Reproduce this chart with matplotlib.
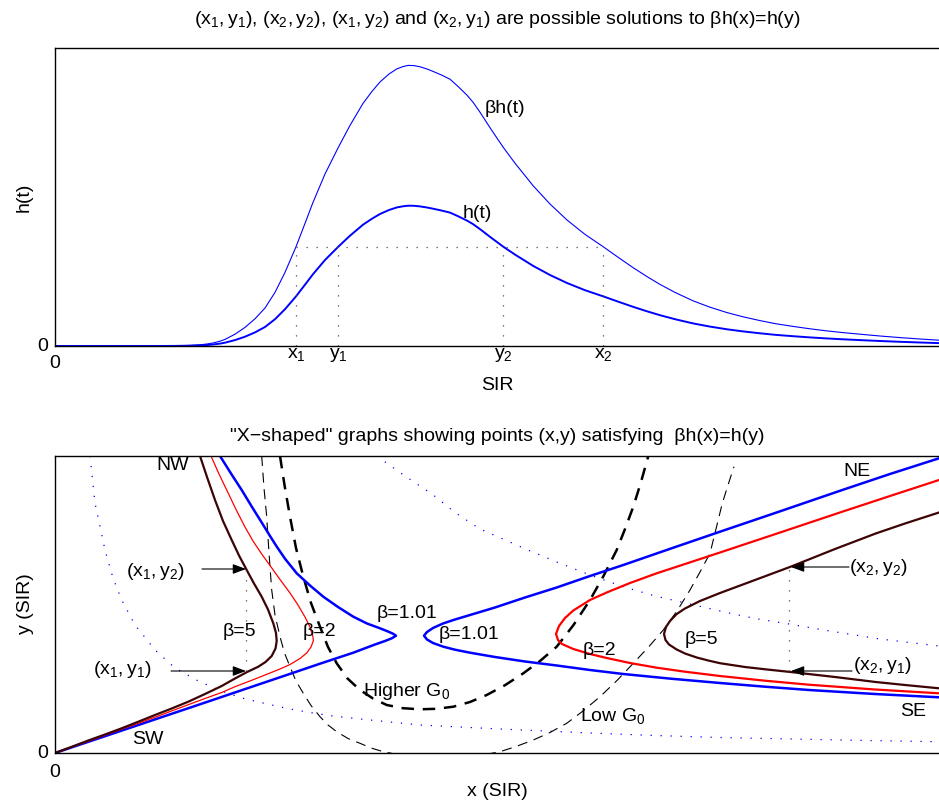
import matplotlib
matplotlib.use("Agg")
import matplotlib.pyplot as plt
from matplotlib.transforms import offset_copy, blended_transform_factory

plt.rcParams['font.family'] = ['Liberation Sans', 'DejaVu Sans']
plt.rcParams['mathtext.fontset'] = 'custom'
plt.rcParams['mathtext.rm'] = 'Liberation Sans'
plt.rcParams['mathtext.it'] = 'Liberation Sans'
plt.rcParams['mathtext.bf'] = 'Liberation Sans:bold'

# ---------------- data: top panel (h(t) curve) ----------------
beta_top = 2.0
t_vals = [0, 100, 120, 135, 145, 152, 158, 165, 170, 175, 180, 190, 200, 210, 220, 230,
          241, 250, 258, 270, 283.3, 295, 308, 317, 325, 334, 342, 348, 353, 359, 365,
          372, 378, 386, 395, 403, 412, 418, 425, 436, 448.3, 460, 470, 478, 495, 512,
          530, 548.3, 563, 578, 592, 605, 620, 638, 655, 672, 688, 705, 720, 738, 755,
          771, 788, 805, 825, 845, 865, 884]
h_vals = [0, 0, 0.1, 0.3, 0.6, 1.0, 1.5, 2.4, 3.3, 4.6, 5.9, 9.3, 13.6, 19.0, 26.8, 36.8,
          49.6, 61.3, 71.8, 86.0, 99.3, 110.3, 121.3, 127.3, 132.0, 136.0, 138.6, 139.7,
          140.3, 140.2, 139.6, 138.5, 137.3, 135.6, 133.4, 129.8, 125.4, 121.9, 116.9,
          108.4, 99.3, 91.4, 85.2, 80.2, 71.0, 63.0, 55.8, 49.6, 44.4, 39.2, 34.7, 30.8,
          26.8, 22.6, 19.4, 16.7, 14.6, 12.7, 11.2, 9.8, 8.6, 7.6, 6.7, 5.9, 5.0, 4.2,
          3.5, 2.9]
level = 99.3
x1_top, y1_top, y2_top, x2_top = 241, 283.3, 448.3, 548.3
top_tick_vals = [x1_top, y1_top, y2_top, x2_top]
top_tick_labels = [r'$\mathregular{x_1}$', r'$\mathregular{y_1}$',
                   r'$\mathregular{y_2}$', r'$\mathregular{x_2}$']

# ---------------- data: bottom panel (X-shaped curves) ----------------
b5_left_x = [145, 152, 160, 168, 176.7, 184, 191.7, 199, 206.7, 213, 218.3, 221, 221.7, 220.5,
             216.7, 210.5, 203.3, 191.7, 180, 166.7, 150, 133.3, 116.7, 100, 83.3, 66.7, 50,
             33.3, 16.7, 0]
b5_left_y = [297, 276, 253, 232, 213, 197.5, 183, 169.5, 156.3, 143.5, 129.7, 120, 112, 104.5,
             97, 91, 86.3, 80.8, 74.5, 67, 59, 51.3, 44.5, 38, 31.3, 24.7, 18.5, 12.5, 6.2, 0]

b2_left_x = [156, 164, 173.3, 181.5, 190, 198, 206.7, 215, 225, 235, 243, 250, 255, 258, 258.3,
             256, 251.7, 245, 235, 225, 215, 200, 180, 166.7, 150, 133.3, 100, 66.7, 33.3, 0]
b2_left_y = [297, 279, 259.7, 242.5, 226, 212, 199, 187.5, 173.5, 160, 148, 136, 126, 116, 112,
             106, 100, 94.5, 88.5, 84, 80, 74, 66.3, 60.5, 54.5, 48.3, 35.8, 23.8, 11.8, 0]

b1_left_x = [165, 176, 186.7, 196.7, 206.7, 215, 222, 230, 241.7, 255, 268.3, 283, 298.3, 312,
             325, 333, 338, 341, 337, 330, 320, 298.3, 265, 231.7, 200, 150, 100, 50, 0]
b1_left_y = [297, 279.5, 263, 246.5, 230.5, 217, 206, 194.3, 179.7, 167.5, 156.3, 146, 136.3,
             129.5, 124.7, 121.5, 119.3, 117.3, 114.8, 112, 108.5, 100.3, 89.3, 78, 67.3, 50.4,
             33.6, 16.8, 0]

b1_right_x = [884, 835, 787.3, 726, 665, 616, 568.3, 535, 501.7, 470, 440, 415, 400, 388, 378,
              372, 369, 372, 378, 388.3, 400, 415, 440, 470, 501.7, 535, 568.3, 616, 665, 710,
              754, 820, 884]
b1_right_y = [294.7, 279, 263, 242, 221.3, 204.5, 188, 177, 165.5, 155.5, 145.5, 138, 133.5,
              129.5, 125, 121, 117.3, 113.5, 110, 106.3, 103.3, 100.3, 96, 91.5, 87.5, 83, 79,
              74.3, 70, 66.3, 63, 59, 55.7]

b2_right_x = [884, 835, 787.3, 726, 665, 630, 601.7, 575, 551.7, 535, 518.3, 510, 504, 501,
              503, 507, 518.3, 535, 551.7, 575, 601.7, 630, 665, 710, 754, 820, 884]
b2_right_y = [273, 257, 241.3, 220.8, 200.5, 189, 179.7, 170, 160.5, 153, 142.5, 135, 127, 119,
              113, 109, 104, 99, 95, 90, 85.3, 81.3, 77, 72.3, 68.3, 63.5, 59.7]

b5_right_x = [884, 850, 820.7, 780, 735.7, 700, 665, 645, 630, 621.7, 615, 611, 609, 610.5, 614,
              621.7, 630, 641.7, 654, 665, 690, 712, 735.7, 780, 820.7, 850, 884]
b5_right_y = [240.5, 229.5, 219.5, 204, 186.3, 173, 160, 152, 144.5, 139, 132, 126, 119, 113,
              108.5, 103.5, 99.5, 95.5, 92.3, 89.8, 86, 83.5, 81, 76, 71, 68, 64.7]

lowg_x = [206.7, 209, 211.7, 214, 216.7, 220, 225, 229.5, 235, 241, 248.3, 256, 265, 273, 281.7,
          293, 305, 316, 328.3, 386, 445, 461, 478.3, 495, 511.7, 528, 545, 562, 578.3, 594,
          608.3, 622, 635, 645, 655, 661, 667.3, 673, 679]
lowg_y = [297, 265, 236.3, 200, 163, 138, 116.3, 100, 86.3, 72, 59.7, 47.5, 36.3, 28, 21.3, 14.5,
          9.7, 5, 1.3, -10, 1.3, 6.5, 13, 20.5, 29.7, 42, 56.3, 72.5, 89.7, 106.5, 123, 142, 163,
          181, 199.7, 224, 249.7, 268, 286.3]

hig_x = [225, 229.5, 235, 241, 248.3, 256, 265, 273, 281.7, 292.5, 305, 318, 331.7, 348, 365,
         381.5, 398.3, 415, 431.7, 450, 468.3, 485, 501.7, 518.5, 535, 548.5, 561.7, 570, 578.3,
         586, 593.3]
hig_y = [297, 268, 236.3, 205, 176.3, 150, 126.3, 106, 89.7, 74.5, 63, 54.5, 48, 44.8, 43.7,
         44.2, 46.3, 51, 58, 67.8, 79.7, 92, 106.3, 128, 153, 177, 203, 224, 246.3, 271, 297]

dot1_x = [35, 40, 50, 58, 66.7, 80, 100, 120, 143.3, 165, 186.7, 210, 230, 255, 278, 315, 365,
          445, 535, 600, 665, 738, 810, 884]
dot1_y = [297, 250, 203, 175, 153, 128, 103, 85, 72, 62.5, 55, 49.5, 45, 40.5, 37, 33, 28, 24,
          20, 17.5, 15.5, 14, 12.5, 11.3]
dot2_x = [321.7, 350, 378.3, 400, 425, 448, 471.7, 501.7, 535, 568.3, 600, 635, 671.7, 700, 734,
          771.7, 825, 884]
dot2_y = [297, 277, 258, 240.5, 224, 214, 203.5, 191, 178, 166.3, 157, 149, 140.5, 134.5, 129,
          122.5, 114, 107]

x1_b, x2_b = 191, 734
y1_b, y2_b = 82, 184

# ---------------- figure ----------------
W, H = 939, 805
fig = plt.figure(figsize=(W / 100, H / 100), dpi=100)


def fx(px):
    return px / W


def fy(py):
    return 1 - py / H


FS = 14
blue = '#0000ff'
red = '#ff0000'
brown = '#3c0404'

ax1 = fig.add_axes([fx(55), fy(346), (W - 55) / W, (346 - 48) / H])
ax2 = fig.add_axes([fx(55), fy(753), (W - 55) / W, (753 - 456) / H])

for ax in (ax1, ax2):
    for s in ('left', 'bottom', 'top'):
        ax.spines[s].set_linewidth(1.0)
        ax.spines[s].set_color('k')
    ax.spines['right'].set_visible(False)
    ax.set_xticks([])
    ax.set_yticks([])

# ---- top panel ----
ax1.set_xlim(0, 884)
ax1.set_ylim(0, 298)
bh_vals = [beta_top * v for v in h_vals]
ax1.plot(t_vals, bh_vals, color=blue, lw=0.8, solid_joinstyle='round')
ax1.plot(t_vals, h_vals, color=blue, lw=1.4, solid_joinstyle='round')
dot_style = dict(color='0.3', lw=0.9, linestyle=(0, (1, 7)))
ax1.plot([x1_top, x2_top], [level, level], **dot_style)
for xv in top_tick_vals:
    ax1.plot([xv, xv], [0, level], **dot_style)
ax1.text(430, 238, 'βh(t)', fontsize=FS, ha='left', va='center')
ax1.text(408, 133, 'h(t)', fontsize=FS, ha='left', va='center')

trx1 = blended_transform_factory(ax1.transData, ax1.transAxes)
ax1.text(0, 0, '0', fontsize=FS, ha='center', va='center',
         transform=offset_copy(trx1, fig=fig, y=-17, units='dots'))
for xv, lab in zip(top_tick_vals, top_tick_labels):
    ax1.text(xv, 0, lab, fontsize=FS, ha='center', va='baseline',
             transform=offset_copy(trx1, fig=fig, y=-12, units='dots'))
try1 = blended_transform_factory(ax1.transAxes, ax1.transData)
ax1.text(0, 0, '0', fontsize=FS, ha='right', va='center',
         transform=offset_copy(try1, fig=fig, x=-7, y=0, units='dots'))

fig.text(fx(24), fy(197), 'h(t)', fontsize=FS, rotation=90, ha='center', va='center')
fig.text(fx(497), fy(385), 'SIR', fontsize=FS, ha='center', va='center')
fig.text(fx(497), fy(19),
         r'$\mathregular{(x_1,y_1)}$, $\mathregular{(x_2,y_2)}$, $\mathregular{(x_1,y_2)}$ and '
         r'$\mathregular{(x_2,y_1)}$ are possible solutions to βh(x)=h(y)',
         fontsize=FS, ha='center', va='center')

# ---- bottom panel ----
ax2.set_xlim(0, 884)
ax2.set_ylim(0, 297)
ax2.plot(dot1_x, dot1_y, color=blue, lw=0.9, linestyle=(0, (1, 7)))
ax2.plot(dot2_x, dot2_y, color=blue, lw=0.9, linestyle=(0, (1, 7)))
ax2.plot(lowg_x, lowg_y, color='k', lw=0.8, linestyle=(0, (9, 6)))
ax2.plot(hig_x, hig_y, color='k', lw=1.8, linestyle=(0, (5, 3.5)))
ax2.plot(b1_left_x, b1_left_y, color=blue, lw=1.8, solid_joinstyle='round')
ax2.plot(b1_right_x, b1_right_y, color=blue, lw=1.8, solid_joinstyle='round')
ax2.plot(b2_left_x, b2_left_y, color=red, lw=0.9, solid_joinstyle='round')
ax2.plot(b2_right_x, b2_right_y, color=red, lw=1.6, solid_joinstyle='round')
ax2.plot(b5_left_x, b5_left_y, color=brown, lw=1.6, solid_joinstyle='round')
ax2.plot(b5_right_x, b5_right_y, color=brown, lw=1.6, solid_joinstyle='round')

dot_k = dict(color='0.3', lw=0.9, linestyle=(0, (1, 7)))
ax2.plot([x1_b, x1_b], [y1_b, y2_b], **dot_k)
ax2.plot([x2_b, x2_b], [y1_b, y2_b], **dot_k)

arr = dict(arrowstyle='-|>,head_length=0.8,head_width=0.3', color='k', lw=0.8,
           shrinkA=0, shrinkB=0)
ax2.annotate('', xy=(x1_b, y2_b), xytext=(147, y2_b), arrowprops=arr)
ax2.annotate('', xy=(x1_b, y1_b), xytext=(116, y1_b), arrowprops=arr)
ax2.annotate('', xy=(x2_b + 2, y2_b + 2), xytext=(794, y2_b + 2), arrowprops=arr)
ax2.annotate('', xy=(x2_b + 2, y1_b), xytext=(797, y1_b), arrowprops=arr)

ax2.text(71, 181, r'$\mathregular{(x_1,y_2)}$', fontsize=FS, ha='left', va='center')
ax2.text(38, 84, r'$\mathregular{(x_1,y_1)}$', fontsize=FS, ha='left', va='center')
ax2.text(794, 186, r'$\mathregular{(x_2,y_2)}$', fontsize=FS, ha='left', va='center')
ax2.text(798, 88, r'$\mathregular{(x_2,y_1)}$', fontsize=FS, ha='left', va='center')

ax2.text(118, 287, 'NW', fontsize=FS, ha='center', va='center')
ax2.text(93, 14, 'SW', fontsize=FS, ha='center', va='center')
ax2.text(802, 281, 'NE', fontsize=FS, ha='center', va='center')
ax2.text(858, 42, 'SE', fontsize=FS, ha='center', va='center')

ax2.text(167.7, 122, 'β=5', fontsize=FS, ha='left', va='center')
ax2.text(248, 121, 'β=2', fontsize=FS, ha='left', va='center')
ax2.text(321.7, 139, 'β=1.01', fontsize=FS, ha='left', va='center')
ax2.text(383.3, 118.7, 'β=1.01', fontsize=FS, ha='left', va='center')
ax2.text(528, 102.3, 'β=2', fontsize=FS, ha='left', va='center')
ax2.text(630, 113.7, 'β=5', fontsize=FS, ha='left', va='center')
ax2.text(308.3, 62, r'Higher $\mathregular{G_0}$', fontsize=FS, ha='left', va='center')
ax2.text(525, 37, r'Low $\mathregular{G_0}$', fontsize=FS, ha='left', va='center')

trx2 = blended_transform_factory(ax2.transData, ax2.transAxes)
ax2.text(0, 0, '0', fontsize=FS, ha='center', va='center',
         transform=offset_copy(trx2, fig=fig, y=-19, units='dots'))
try2 = blended_transform_factory(ax2.transAxes, ax2.transData)
ax2.text(0, 0, '0', fontsize=FS, ha='right', va='center',
         transform=offset_copy(try2, fig=fig, x=-7, y=0, units='dots'))

fig.text(fx(26), fy(604), 'y (SIR)', fontsize=FS, rotation=90, ha='center', va='center')
fig.text(fx(497), fy(791), 'x (SIR)', fontsize=FS, ha='center', va='center')
fig.text(fx(497), fy(436), '"X\u2212shaped" graphs showing points (x,y) satisfying  βh(x)=h(y)',
         fontsize=FS, ha='center', va='center')

fig.savefig('out.png', dpi=100)
